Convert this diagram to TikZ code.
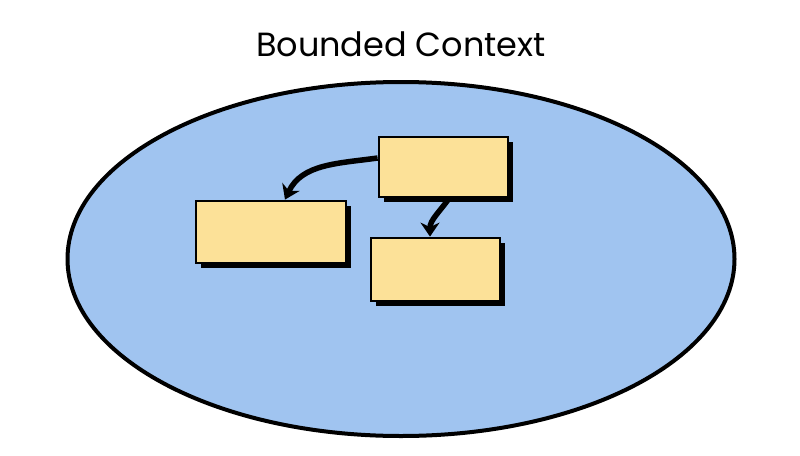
\documentclass[tikz,border=0pt]{standalone}
\usepackage{fontspec}
\setmainfont{Poppins}
\usetikzlibrary{arrows.meta,shapes.geometric,shadows}
\definecolor{ctxblue}{RGB}{160,196,240}
\definecolor{boxfill}{RGB}{252,225,152}
\tikzset{
  entity/.style={draw=black, line width=2.8pt, fill=boxfill, minimum width=#1, inner sep=0pt,
     drop shadow={shadow xshift=4.5pt, shadow yshift=-4.5pt, fill=black, opacity=1}},
  rel/.style={line width=5.5pt, -{Stealth[length=14pt,width=19pt]}},
}
\begin{document}
\begin{tikzpicture}[x=1pt,y=-1pt]
\useasboundingbox[fill=white] (0,0) rectangle (800,455);
\node[draw=black, line width=4pt, fill=ctxblue, ellipse, minimum width=667pt, minimum height=354pt, inner sep=0pt] (ctx) at (401,259) {};
\node[font=\fontsize{33.5}{40}\selectfont] (title) at (401,44) {Bounded Context};
\node[entity=129pt, minimum height=60pt] (a) at (443.5,167) {};
\node[entity=150pt, minimum height=62pt] (b) at (271,232) {};
\node[entity=129pt, minimum height=63pt] (c) at (435.5,269.5) {};
\draw[rel] (a.west |- 0,158) to[out=188,in=65] (b.north -| 285,0);
\draw[rel] (a.south -| 449,0) to[out=235,in=90] (c.north -| 430,0);
\end{tikzpicture}
\end{document}
